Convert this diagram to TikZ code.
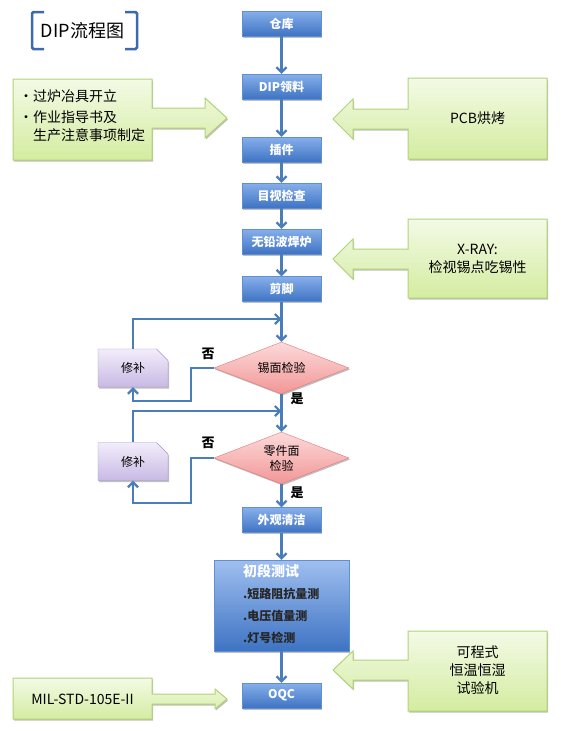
\documentclass[tikz,border=0pt]{standalone}
\usepackage{fontspec}
\newfontfamily\cjk{Noto Sans CJK SC}
\usetikzlibrary{shapes.geometric, shapes.misc, arrows.meta, shadows}

\definecolor{flowblue}{RGB}{74,126,187}
\definecolor{boxtop}{RGB}{135,175,235}
\definecolor{boxbot}{RGB}{62,115,195}
\definecolor{boxline}{RGB}{95,145,210}
\definecolor{greentop}{RGB}{243,250,230}
\definecolor{greenbot}{RGB}{212,236,160}
\definecolor{greenline}{RGB}{178,210,120}
\definecolor{purptop}{RGB}{242,237,250}
\definecolor{purpbot}{RGB}{200,185,228}
\definecolor{purpline}{RGB}{165,145,205}
\definecolor{pinktop}{RGB}{252,218,218}
\definecolor{pinkbot}{RGB}{242,150,150}
\definecolor{pinkline}{RGB}{225,120,120}
\definecolor{brackblue}{RGB}{60,105,175}

\begin{document}
\begin{tikzpicture}[x=1pt, y=-1pt,
	every node/.style={font=\cjk},
	softshadow/.style={drop shadow={shadow xshift=1pt, shadow yshift=-1.5pt, opacity=0.25, fill=black}},
	procbox/.style={rectangle, draw=boxline, top color=boxtop, bottom color=boxbot, minimum width=79pt, minimum height=25pt, inner sep=0pt, text=white, font=\cjk\fontsize{12}{14}\bfseries\selectfont, softshadow},
	testbox/.style={rectangle, draw=boxline, top color=boxtop!80!white, bottom color=boxbot, minimum width=135pt, minimum height=91pt, inner sep=0pt, softshadow},
	checkbox/.style={diamond, draw=pinkline, top color=pinktop, bottom color=pinkbot, minimum width=135pt, minimum height=52pt, aspect=2.6, inner sep=0pt, align=center, font=\cjk\fontsize{12}{15}\selectfont, softshadow},
	fixbox/.style={chamfered rectangle, chamfered rectangle corners=north east, chamfered rectangle sep=6pt, draw=purpline, top color=purptop, bottom color=purpbot, minimum width=70pt, minimum height=38pt, inner sep=0pt, font=\cjk\fontsize{12}{14}\selectfont, softshadow},
	notebox/.style={draw=greenline, line width=1pt, top color=greentop, bottom color=greenbot, softshadow},
	notetext/.style={inner sep=0pt, font=\cjk\fontsize{14}{18}\selectfont},
	marklabel/.style={inner sep=0pt, font=\cjk\fontsize{13}{15}\bfseries\selectfont},
	flow/.style={draw=flowblue, line width=2.2pt, -{Straight Barb[length=5pt, width=10pt]}},
	bracket/.style={draw=brackblue, line width=2.5pt, rounded corners=1.5pt}]

	\useasboundingbox (0,0) rectangle (560,731);

	% title
	\node (title) at (82.5,31) {\fontsize{18}{20}\selectfont DIP流程图};
	\draw[bracket] (44,12) -- (32,12) -- (32,49) -- (44,49);
	\draw[bracket] (125,12) -- (137,12) -- (137,49) -- (125,49);

	% side notes
	\draw[notebox] (13,79) -- (152,79) -- (152,108) -- (205,108) -- (205,98) -- (227,118) -- (205,138) -- (205,128) -- (152,128) -- (152,160) -- (13,160) -- cycle;
	\node[notetext, anchor=west, align=left] (prep) at (19,116) {•过炉冶具开立\\[3pt]•作业指导书及\\\hphantom{•}生产注意事项制定};

	\draw[notebox] (547,78) -- (408,78) -- (408,109) -- (353,109) -- (353,99) -- (333,119) -- (353,139) -- (353,129) -- (408,129) -- (408,159) -- (547,159) -- cycle;
	\node[notetext] (pcb) at (477.5,118) {PCB烘烤};

	\draw[notebox] (547,219) -- (408,219) -- (408,249) -- (353,249) -- (353,239) -- (333,259) -- (353,279) -- (353,269) -- (408,269) -- (408,298) -- (547,298) -- cycle;
	\node[notetext, align=center] (xray) at (477.5,259) {X-RAY:\\检视锡点吃锡性};

	\draw[notebox] (547,631) -- (408,631) -- (408,660) -- (353,660) -- (353,651) -- (333,670) -- (353,689) -- (353,680) -- (408,680) -- (408,711) -- (547,711) -- cycle;
	\node[notetext, align=center] (oven) at (477.5,670.5) {可程式\\恒温恒湿\\试验机};

	\draw[notebox] (13,678) -- (152,678) -- (152,694) -- (215,694) -- (215,689) -- (227,699) -- (215,709) -- (215,704) -- (152,704) -- (152,719) -- (13,719) -- cycle;
	\node[notetext] (mil) at (82.5,699) {MIL-STD-105E-II};

	% main flow
	\node[procbox] (store) at (281.5,23.5) {仓库};
	\node[procbox] (pick) at (281.5,86.5) {DIP领料};
	\node[procbox] (insert) at (281.5,149.5) {插件};
	\node[procbox] (look) at (281.5,195.5) {目视检查};
	\node[procbox] (wave) at (281.5,241.5) {无铅波焊炉};
	\node[procbox] (trim) at (281.5,289) {剪脚};
	\node[checkbox] (chk1) at (281.5,368) {锡面检验};
	\node[fixbox] (fix1) at (133,368) {修补};
	\node[checkbox] (chk2) at (281.5,458) {零件面\\检验};
	\node[fixbox] (fix2) at (133,461.5) {修补};
	\node[procbox] (clean) at (281.5,520) {外观清洁};
	\node[testbox] (test) at (281.5,605.5) {};
	\node[anchor=north west, align=left, inner sep=0pt, font=\cjk\fontsize{12}{22}\bfseries\selectfont, text=black!85] (testtxt) at (243,564)
		{{\fontsize{14}{22}\selectfont\color{white}初段测试}\\.短路阻抗量测\\.电压值量测\\.灯号检测};
	\node[procbox] (oqc) at (281.5,695.5) {OQC};

	\node[marklabel] (no1) at (208,354) {否};
	\node[marklabel] (yes1) at (297,399) {是};
	\node[marklabel] (no2) at (208,443) {否};
	\node[marklabel] (yes2) at (297,493) {是};

	\coordinate (back1) at (281.5,319);
	\coordinate (low1) at (191,401);
	\coordinate (back2) at (281.5,411);
	\coordinate (low2) at (191,503);

	\draw[flow] (store.south) -- (pick.north);
	\draw[flow] (pick.south) -- (insert.north);
	\draw[flow] (insert.south) -- (look.north);
	\draw[flow] (look.south) -- (wave.north);
	\draw[flow] (wave.south) -- (trim.north);
	\draw[flow] (trim.south) -- (chk1.north);
	\draw[flow] (chk1.south) -- (chk2.north);
	\draw[flow] (chk2.south) -- (clean.north);
	\draw[flow] (clean.south) -- (test.north);
	\draw[flow] (test.south) -- (oqc.north);

	\draw[flow] (fix1.north) |- (back1);
	\draw[flow] (chk1.west) -| (low1) -| (fix1.south);
	\draw[flow] (fix2.north) |- (back2);
	\draw[flow] (chk2.west) -| (low2) -| (fix2.south);
\end{tikzpicture}
\end{document}
